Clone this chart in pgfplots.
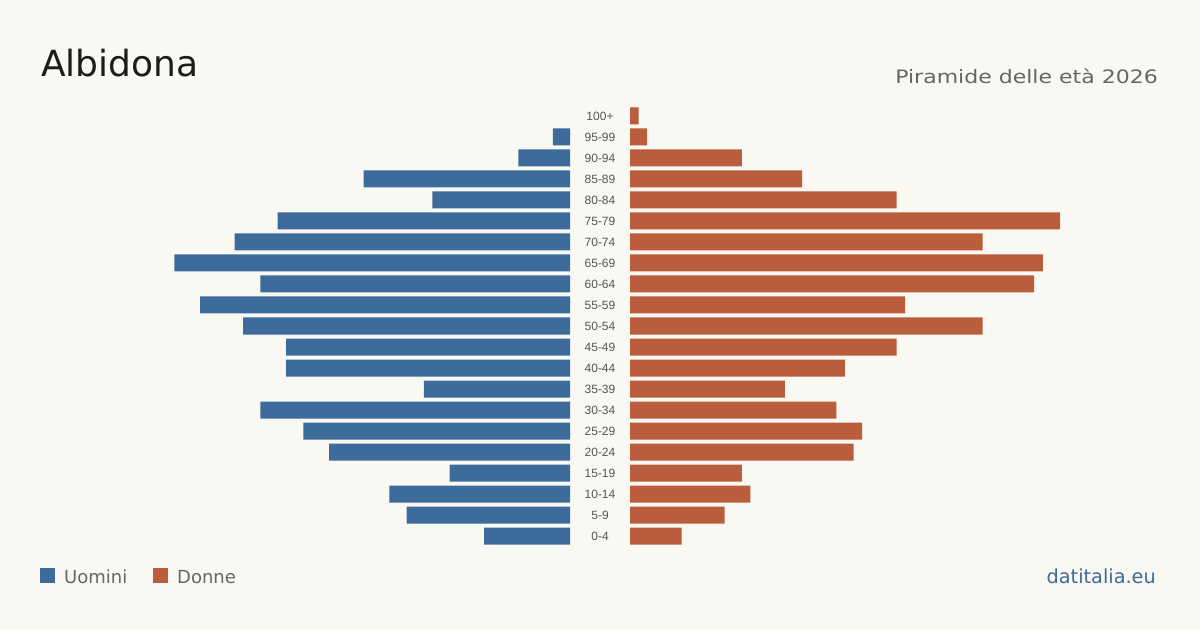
\documentclass[border=0pt]{standalone}
\usepackage{fontspec}
\setmainfont{DejaVu Sans}
\newfontfamily\tickfont{Liberation Sans}
\usepackage{pgfplots}
\pgfplotsset{compat=1.18}
\usepackage{pgfplotstable}
\definecolor{bg}{HTML}{F9F8F3}
\definecolor{uomo}{HTML}{3D6B9C}
\definecolor{donna}{HTML}{BA5D3C}
\definecolor{titc}{HTML}{1C1C1C}
\definecolor{subc}{HTML}{666666}
\definecolor{tickc}{HTML}{555555}
\pgfplotstableread{
idx label M F
0 0-4 10 6
1 5-9 19 11
2 10-14 21 14
3 15-19 14 13
4 20-24 28 26
5 25-29 31 27
6 30-34 36 24
7 35-39 17 18
8 40-44 33 25
9 45-49 33 31
10 50-54 38 41
11 55-59 43 32
12 60-64 36 47
13 65-69 46 48
14 70-74 39 41
15 75-79 34 50
16 80-84 16 31
17 85-89 24 20
18 90-94 6 13
19 95-99 2 2
20 100+ nan 1
}\data
\begin{document}
\begin{tikzpicture}[x=1pt,y=1pt]
\fill[bg] (0,0) rectangle (1200,630);
\useasboundingbox (0,0) rectangle (1200,630);
\pgfplotsset{pyr/.style={
  scale only axis, width=430pt, height=441pt,
  xmin=0, xmax=50, ymin=-0.5, ymax=20.5,
  axis line style={draw=none}, tick style={draw=none},
  xtick=\empty, clip=false, unbounded coords=discard,
}}
\begin{axis}[pyr, at={(570pt,83.5pt)}, anchor=south east, x dir=reverse, ytick=\empty]
\addplot[xbar, bar width=17pt, fill=uomo, draw=none] table[x=M, y=idx]{\data};
\end{axis}
\begin{axis}[pyr, at={(630pt,83.5pt)}, anchor=south west,
  ytick={0,...,20}, yticklabels from table={\data}{label},
  yticklabel style={anchor=center, xshift=-30pt, font=\tickfont\fontsize{12}{13}\selectfont, text=tickc, inner sep=0pt}]
\addplot[xbar, bar width=17pt, fill=donna, draw=none] table[x=F, y=idx]{\data};
\end{axis}
\node[anchor=base west, inner sep=0pt, text=titc, font=\fontsize{36}{40}\selectfont] at (41,553) {Albidona};
\node[anchor=base east, inner sep=0pt, text=subc, font=\fontsize{18.5}{22}\selectfont] at (1158,546.5) {\scalebox{1.19}[1]{Piramide delle età 2026}};
\fill[uomo] (40,47) rectangle (55,62);
\node[anchor=base west, inner sep=0pt, text=subc, font=\fontsize{18}{22}\selectfont] at (64,47) {Uomini};
\fill[donna] (153,47) rectangle (168,62);
\node[anchor=base west, inner sep=0pt, text=subc, font=\fontsize{18}{22}\selectfont] at (177,47) {Donne};
\node[anchor=base east, inner sep=0pt, text=uomo, font=\fontsize{19.3}{22}\selectfont] at (1156,47) {datitalia.eu};
\end{tikzpicture}
\end{document}
